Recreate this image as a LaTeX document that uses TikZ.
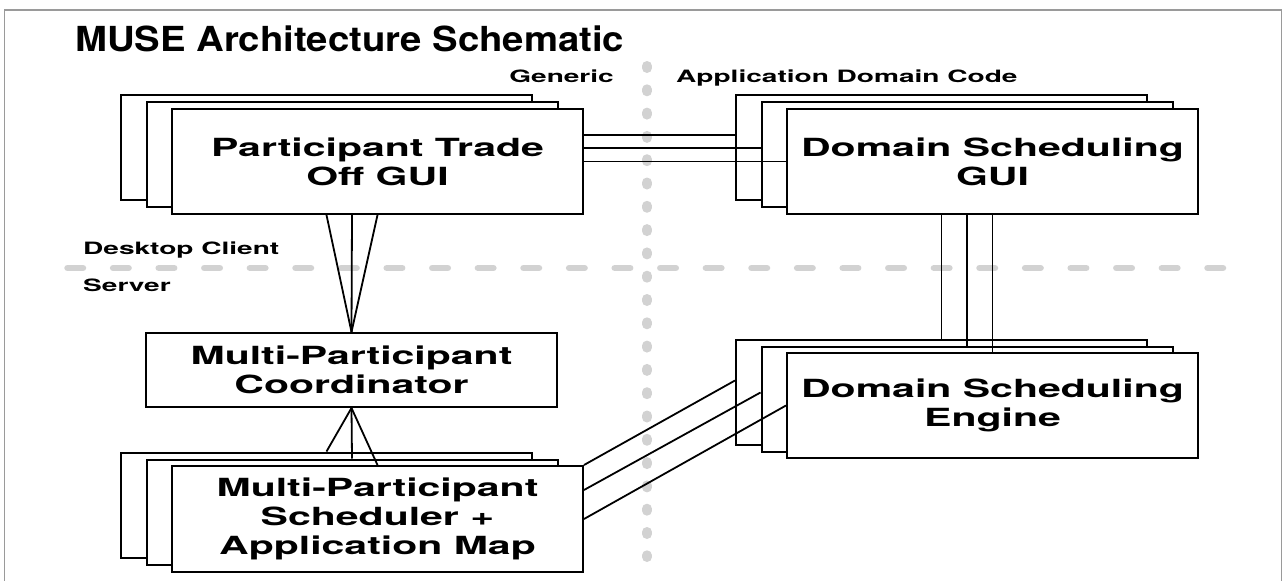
\documentclass[tikz,border=0pt]{standalone}
\usepackage{fontspec}
\newfontfamily\titlefont[FakeStretch=1.11]{TeX Gyre Heros}
\newfontfamily\cardfont[FakeStretch=1.64]{TeX Gyre Heros}
\newfontfamily\zonefont[FakeStretch=1.65]{TeX Gyre Heros}
\definecolor{framegray}{HTML}{9A9A9A}
\definecolor{dividergray}{HTML}{D2D2D2}

\begin{document}
\begin{tikzpicture}[x=1pt,y=-1pt,
  card/.style={draw=black, line width=2pt, fill=white, inner sep=0pt, align=center,
    minimum width=411pt, minimum height=105pt,
    font={\cardfont\bfseries\fontsize{25}{29}\selectfont}},
  wire/.style={draw=black, line width=1.8pt},
  zone/.style={inner sep=0pt, font={\zonefont\bfseries\fontsize{17}{17}\selectfont}},
  tierline/.style={draw=dividergray, line width=6.5pt, line cap=round, dash pattern=on 15.5pt off 30.1pt},
  splitline/.style={draw=dividergray, line width=10pt, line cap=round, dash pattern=on 2pt off 21.3pt}]

\useasboundingbox (0,0) rectangle (1286,581);

% outer frame
\draw[framegray, line width=1.5pt] (4.5,590) -- (4.5,10) -- (1281.5,10) -- (1281.5,590);

% title
\node[anchor=base west, inner sep=0pt, font={\titlefont\bfseries\fontsize{34.5}{34.5}\selectfont}] (title) at (75,51) {MUSE Architecture Schematic};

% dividers between generic / domain code and client / server
\draw[splitline] (647,66) -- (647,557);
\draw[tierline] (67.5,268) -- (1223,268);

% region labels
\node[zone, anchor=base east] (generic) at (614,82) {Generic};
\node[zone, anchor=base west] (domaincode) at (676,82) {Application Domain Code};
\node[zone, anchor=base west] (client) at (83,254) {Desktop Client};
\node[zone, anchor=base west] (server) at (83,291) {Server};

% participant trade-off GUI stack
\node[card] (ptoA) at (326.5,147.5) {};
\node[card] (ptoB) at (352,154.5) {};
\node[card] (pto) at (377.5,161.5) {Participant Trade\\Off GUI};

% domain scheduling GUI stack
\node[card] (dsgA) at (941.5,147.5) {};
\node[card] (dsgB) at (967,154.5) {};
\node[card] (dsg) at (992.5,161.5) {Domain Scheduling\\GUI};

% coordinator
\node[card, minimum width=411pt, minimum height=74pt] (mpc) at (351.5,370) {Multi-Participant\\Coordinator};

% domain scheduling engine stack
\node[card] (dseA) at (941.5,392) {};
\node[card] (dseB) at (967,399) {};
\node[card] (dse) at (992.5,405.5) {Domain Scheduling\\Engine};

% scheduler + application map stack
\node[card] (mpsA) at (326.5,505) {};
\node[card] (mpsB) at (352,512) {};
\node[card, minimum height=106pt] (mps) at (377.5,519) {Multi-Participant\\Scheduler +\\Application Map};

% GUI to GUI
\draw[wire] ([yshift=26.5pt]pto.east) -- ([yshift=26.5pt]pto.east -| dsgA.west);
\draw[wire] ([yshift=13.5pt]pto.east) -- ([yshift=13.5pt]pto.east -| dsgB.west);
\draw[wire] (pto.east) -- (dsg.west);

% GUI to engine
\draw[wire] (dsg.south -| dseA.north) -- (dseA.north);
\draw[wire] (dsg.south -| dseB.north) -- (dseB.north);
\draw[wire] (dsg.south) -- (dse.north);

% trade-off GUI to coordinator
\draw[wire] (pto.south -| ptoA.south) -- (mpc.north);
\draw[wire] (pto.south -| ptoB.south) -- (mpc.north);
\draw[wire] (pto.south) -- (mpc.north);

% coordinator to schedulers
\draw[wire] (mpc.south) -- (mpsA.north);
\draw[wire] (mpc.south) -- (mpsB.north);
\draw[wire] (mpc.south) -- (mps.north);

% schedulers to engine
\draw[wire] (mps.north east) -- ([yshift=11.5pt]dseA.west);
\draw[wire] ([yshift=29pt]mps.east) -- ([yshift=6.5pt]dseB.west);
\draw[wire] (mps.east) -- (dse.west);
\end{tikzpicture}
\end{document}
